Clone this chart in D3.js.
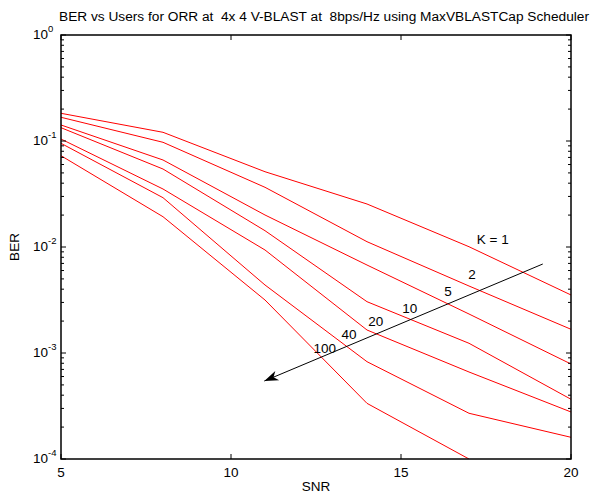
<!DOCTYPE html>
<html><head><meta charset="utf-8">
<script src="https://cdn.jsdelivr.net/npm/d3@7"></script>
<style>
body{margin:0;background:#fff;}
text{font-family:"Liberation Sans",Arial,sans-serif;fill:#000;}
</style></head>
<body>
<svg id="chart" width="605" height="497"></svg>
<script>
// ---- data ----
const snr = [5, 8, 11, 14, 17, 20];
const userCounts = [1, 2, 5, 10, 20, 40, 100];
const berK1   = [0.1825, 0.1208, 0.0513, 0.02544, 0.01006, 0.003526];
const berK2   = [0.1674, 0.0972, 0.03657, 0.01122, 0.004286, 0.001674];
const berK5   = [0.1416, 0.0662, 0.02004, 0.00676, 0.002333, 0.000787];
const berK10  = [0.1335, 0.05441, 0.01425, 0.003048, 0.001235, 0.000366];
const berK20  = [0.1044, 0.03525, 0.00937, 0.001648, 0.000662, 0.0002777];
const berK40  = [0.0951, 0.02918, 0.004381, 0.000828, 0.00027, 0.0001602];
const berK100 = [0.07265, 0.0193, 0.003162, 0.000335, 0.0001, null];
const seriesList = [berK1, berK2, berK5, berK10, berK20, berK40, berK100];
const xTicks = [5, 10, 15, 20];
const yTickExps = [0, -1, -2, -3, -4];
const labelText = ["K = 1", "2", "5", "10", "20", "40", "100"];
const labelSnr  = [17.7, 17.09, 16.38, 15.26, 14.26, 13.47, 12.76];
const labelBer  = [0.01164, 0.00544, 0.00376, 0.00255, 0.00196, 0.00145, 0.00109];
const arrowFrom = [19.17, 0.00691];
const arrowTo   = [10.98, 0.000544];

// ---- layout ----
const L = 61, R = 571, T = 35, B = 459;
const svg = d3.select("#chart");
const x = d3.scaleLinear().domain([5, 20]).range([L, R]);
const y = d3.scaleLog().domain([1e-4, 1]).range([B, T]);

svg.append("defs").append("clipPath").attr("id", "clip")
  .append("rect").attr("x", L).attr("y", T).attr("width", R - L).attr("height", B - T);

// title
svg.append("text").attr("x", (L + R) / 2 + 8).attr("y", 21)
  .attr("text-anchor", "middle").style("font-size", "13.7px").style("white-space", "pre")
  .text("BER vs Users for ORR at  4x 4 V-BLAST at  8bps/Hz using MaxVBLASTCap Scheduler");

// lines
const line = d3.line().defined(d => d !== null).x((d, i) => x(snr[i])).y(d => y(d));
const g = svg.append("g").attr("clip-path", "url(#clip)");
seriesList.forEach(s => {
  g.append("path").attr("d", line(s)).attr("fill", "none")
    .attr("stroke", "#ff0000").attr("stroke-width", 1);
});

// axes ticks (inward, both sides)
const tickG = svg.append("g").attr("stroke", "#000").attr("stroke-width", 1);
xTicks.forEach(v => {
  tickG.append("line").attr("x1", x(v)).attr("x2", x(v)).attr("y1", B).attr("y2", B - 5);
  tickG.append("line").attr("x1", x(v)).attr("x2", x(v)).attr("y1", T).attr("y2", T + 5);
});
for (let e = -4; e <= 0; e++) {
  for (let m = 1; m <= 9; m++) {
    if (e === 0 && m > 1) break;
    const v = m * Math.pow(10, e);
    const len = m === 1 ? 5 : 3;
    tickG.append("line").attr("x1", L).attr("x2", L + len).attr("y1", y(v)).attr("y2", y(v));
    tickG.append("line").attr("x1", R).attr("x2", R - len).attr("y1", y(v)).attr("y2", y(v));
  }
}
// box
svg.append("rect").attr("x", L).attr("y", T).attr("width", R - L).attr("height", B - T)
  .attr("fill", "none").attr("stroke", "#000").attr("stroke-width", 1.5);

// x tick labels
xTicks.forEach(v => {
  svg.append("text").attr("x", x(v)).attr("y", B + 18).attr("text-anchor", "middle")
    .style("font-size", "13.5px").text(v);
});
// y tick labels
yTickExps.forEach(e => {
  svg.append("text").attr("x", 48).attr("y", y(Math.pow(10, e)) + 4)
    .attr("text-anchor", "end").style("font-size", "13.5px").text("10");
  svg.append("text").attr("x", 48).attr("y", y(Math.pow(10, e)) - 3)
    .style("font-size", "9.5px").text(e);
});

// axis titles
svg.append("text").attr("x", (L + R) / 2).attr("y", 491).attr("text-anchor", "middle")
  .style("font-size", "13.5px").text("SNR");
svg.append("text").attr("transform", `translate(19,${(T + B) / 2}) rotate(-90)`)
  .attr("text-anchor", "middle").style("font-size", "13.5px").text("BER");

// curve labels
labelText.forEach((t, i) => {
  svg.append("text").attr("x", x(labelSnr[i])).attr("y", y(labelBer[i]))
    .attr("text-anchor", "middle").attr("dominant-baseline", "middle")
    .style("font-size", "13.5px").text(t);
});

// arrow
const x1 = x(arrowFrom[0]), y1 = y(arrowFrom[1]), x2 = x(arrowTo[0]), y2 = y(arrowTo[1]);
svg.append("line").attr("x1", x1).attr("y1", y1).attr("x2", x2).attr("y2", y2)
  .attr("stroke", "#000").attr("stroke-width", 1);
const ang = Math.atan2(y2 - y1, x2 - x1);
const hl = 14, hw = 5, back = 10;
const ux = Math.cos(ang), uy = Math.sin(ang);
const px = -uy, py = ux;
const pts = [
  [x2, y2],
  [x2 - ux * hl + px * hw, y2 - uy * hl + py * hw],
  [x2 - ux * back, y2 - uy * back],
  [x2 - ux * hl - px * hw, y2 - uy * hl - py * hw]
];
svg.append("path").attr("d", "M" + pts.map(p => p.join(",")).join("L") + "Z").attr("fill", "#000");
</script>
</body></html>
